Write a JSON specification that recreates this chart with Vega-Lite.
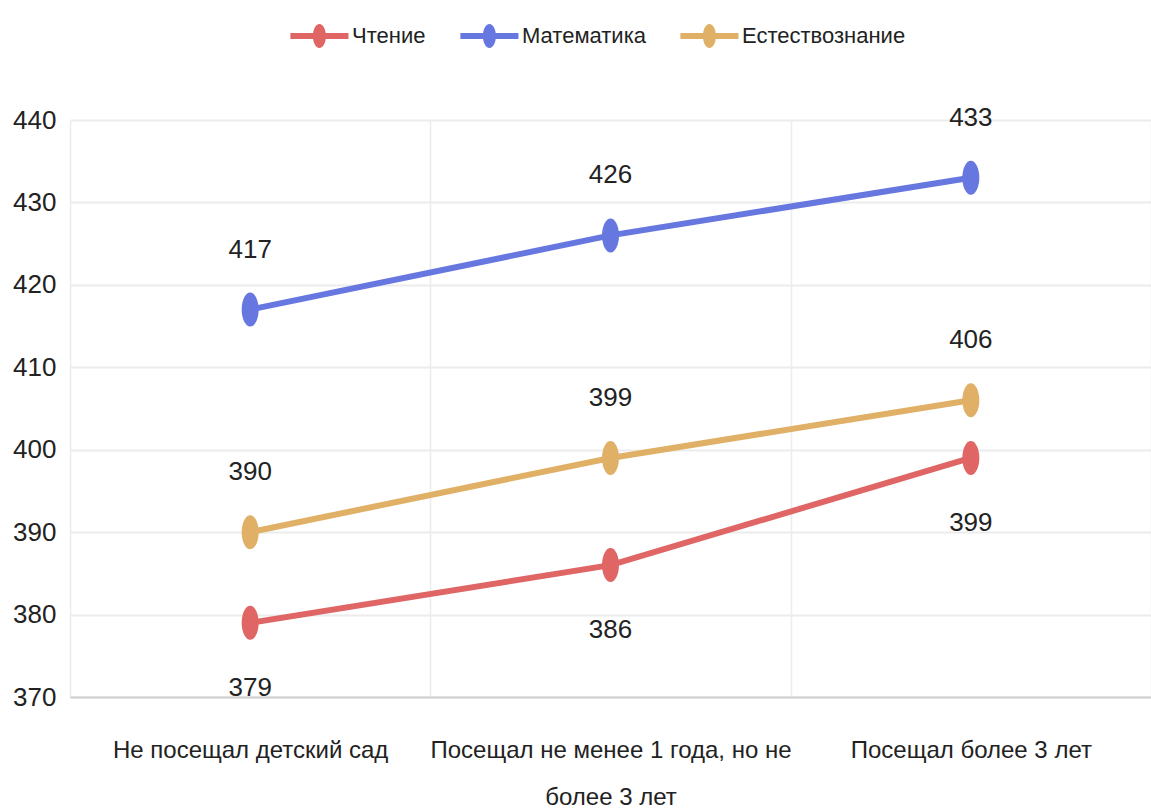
{
  "$schema": "https://vega.github.io/schema/vega-lite/v6.json",
  "width": 1081,
  "height": 577,
  "autosize": {"type": "none"},
  "padding": {"left": 70, "top": 120, "right": 0, "bottom": 115},
  "background": "white",
  "config": {
    "font": "Liberation Sans",
    "view": {"stroke": null},
    "axis": {"labelFont": "Liberation Sans", "labelColor": "#222222"}
  },
  "data": {
    "values": [
      {"cat": "Не посещал детский сад", "series": "Чтение", "v": 379},
      {"cat": "Посещал не менее 1 года, но не более 3 лет", "series": "Чтение", "v": 386},
      {"cat": "Посещал более 3 лет", "series": "Чтение", "v": 399},
      {"cat": "Не посещал детский сад", "series": "Математика", "v": 417},
      {"cat": "Посещал не менее 1 года, но не более 3 лет", "series": "Математика", "v": 426},
      {"cat": "Посещал более 3 лет", "series": "Математика", "v": 433},
      {"cat": "Не посещал детский сад", "series": "Естествознание", "v": 390},
      {"cat": "Посещал не менее 1 года, но не более 3 лет", "series": "Естествознание", "v": 399},
      {"cat": "Посещал более 3 лет", "series": "Естествознание", "v": 406}
    ]
  },
  "encoding": {
    "x": {
      "field": "cat",
      "type": "nominal",
      "sort": null,
      "scale": {"type": "band", "paddingInner": 0, "paddingOuter": 0},
      "axis": {
        "title": null,
        "labelAngle": 0,
        "labelFontSize": 24,
        "labelPadding": 53,
        "labelLineHeight": 47,
        "labelLimit": 0,
        "labelBaseline": "middle",
        "labelExpr": "datum.value == 'Посещал не менее 1 года, но не более 3 лет' ? ['Посещал не менее 1 года, но не', 'более 3 лет'] : datum.label",
        "ticks": false,
        "tickBand": "extent",
        "grid": true,
        "gridColor": "#ececec",
        "gridWidth": 1.5,
        "domain": true,
        "domainColor": "#cfcfcf",
        "domainWidth": 2
      }
    },
    "y": {
      "field": "v",
      "type": "quantitative",
      "scale": {"domain": [370, 440], "nice": false, "zero": false},
      "axis": {
        "title": null,
        "values": [370, 380, 390, 400, 410, 420, 430, 440],
        "labelFontSize": 26,
        "labelPadding": 14,
        "ticks": false,
        "domain": false,
        "grid": true,
        "gridColor": "#ececec",
        "gridWidth": 2
      }
    },
    "color": {
      "field": "series",
      "type": "nominal",
      "scale": {
        "domain": ["Чтение", "Математика", "Естествознание"],
        "range": ["#e06666", "#6677e0", "#e0b066"]
      },
      "legend": {
        "title": null,
        "orient": "none",
        "legendX": 220,
        "legendY": -96,
        "direction": "horizontal",
        "labelFontSize": 22,
        "labelLimit": 0,
        "labelColor": "#222222",
        "labelFont": "Liberation Sans",
        "symbolType": "M-1,-0.26L4,-0.26L4,0.26L-1,0.26Z M1.5,-1.03A0.56,1.03 0 1,1 1.5,1.03A0.56,1.03 0 1,1 1.5,-1.03Z",
        "symbolSize": 540,
        "symbolStrokeWidth": 0,
        "labelOffset": 38,
        "columnPadding": 34,
        "encode": {
          "symbols": {
            "update": {
              "fill": {"scale": "color", "field": "value"},
              "stroke": {"value": "transparent"},
              "opacity": {"value": 1}
            }
          }
        }
      }
    }
  },
  "layer": [
    {"mark": {"type": "line", "strokeWidth": 6}},
    {
      "mark": {
        "type": "point",
        "filled": true,
        "opacity": 1,
        "shape": "M0,-1A0.5,1 0 1,1 0,1A0.5,1 0 1,1 0,-1Z",
        "size": 1156
      }
    },
    {
      "transform": [{"filter": "datum.series == 'Чтение'"}],
      "mark": {"type": "text", "dy": 65, "fontSize": 26, "color": "#222222", "baseline": "middle", "font": "Liberation Sans"},
      "encoding": {"text": {"field": "v", "type": "quantitative"}, "color": {"value": "#222222"}}
    },
    {
      "transform": [{"filter": "datum.series != 'Чтение'"}],
      "mark": {"type": "text", "dy": -60, "fontSize": 26, "color": "#222222", "baseline": "middle", "font": "Liberation Sans"},
      "encoding": {"text": {"field": "v", "type": "quantitative"}, "color": {"value": "#222222"}}
    }
  ]
}
